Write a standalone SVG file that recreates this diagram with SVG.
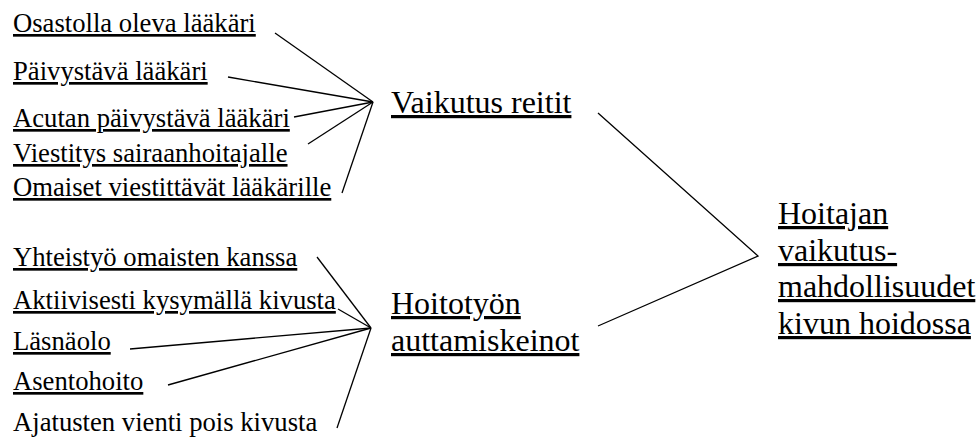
<svg xmlns="http://www.w3.org/2000/svg" width="977" height="437" viewBox="0 0 977 437">
<style>
text{font-family:"Liberation Serif","Times New Roman","DejaVu Serif",serif;fill:#000}
.s{font-size:26.67px}
.l{font-size:32px}
.u{text-decoration:underline}
.c line,.c polyline{stroke:#000;stroke-width:1.3;fill:none}
</style>
<rect width="977" height="437" fill="#fff"/>
<g class="c" id="connectors">
<line x1="275" y1="33" x2="373" y2="102"/>
<line x1="228" y1="77" x2="373" y2="102"/>
<line x1="294" y1="117" x2="373" y2="102"/>
<line x1="308" y1="144" x2="373" y2="102"/>
<line x1="342" y1="193" x2="373" y2="102"/>
<line x1="317" y1="257" x2="371" y2="328"/>
<line x1="338" y1="309" x2="371" y2="328"/>
<line x1="130" y1="349" x2="371" y2="328"/>
<line x1="168" y1="385" x2="371" y2="328"/>
<line x1="337" y1="428" x2="371" y2="328"/>
<polyline points="598,113 758,256 598,326"/>
</g>
<g id="n1"><text class="s u" x="13" y="32">Osastolla oleva lääkäri</text></g>
<g id="n2"><text class="s u" x="13" y="80">Päivystävä lääkäri</text></g>
<g id="n3"><text class="s u" x="13" y="127">Acutan päivystävä lääkäri</text></g>
<g id="n4"><text class="s u" x="13" y="162">Viestitys sairaanhoitajalle</text></g>
<g id="n5"><text class="s u" x="13" y="196">Omaiset viestittävät lääkärille</text></g>
<g id="n6"><text class="s u" x="13" y="266">Yhteistyö omaisten kanssa</text></g>
<g id="n7"><text class="s u" x="13" y="309">Aktiivisesti kysymällä kivusta</text></g>
<g id="n8"><text class="s u" x="13" y="350">Läsnäolo</text></g>
<g id="n9"><text class="s u" x="13" y="390">Asentohoito</text></g>
<g id="n10"><text class="s" x="13" y="431">Ajatusten vienti pois kivusta</text></g>
<g id="vaikutus"><text class="l u" x="391" y="113">Vaikutus reitit</text></g>
<g id="hoitotyo"><text class="l u" x="391" y="314">Hoitotyön</text><text class="l u" x="391" y="351">auttamiskeinot</text></g>
<g id="hoitajan"><text class="l u" x="778" y="224">Hoitajan</text><text class="l u" x="778" y="261">vaikutus-</text><text class="l u" x="778" y="297">mahdollisuudet</text><text class="l u" x="778" y="334">kivun hoidossa</text></g>
</svg>
